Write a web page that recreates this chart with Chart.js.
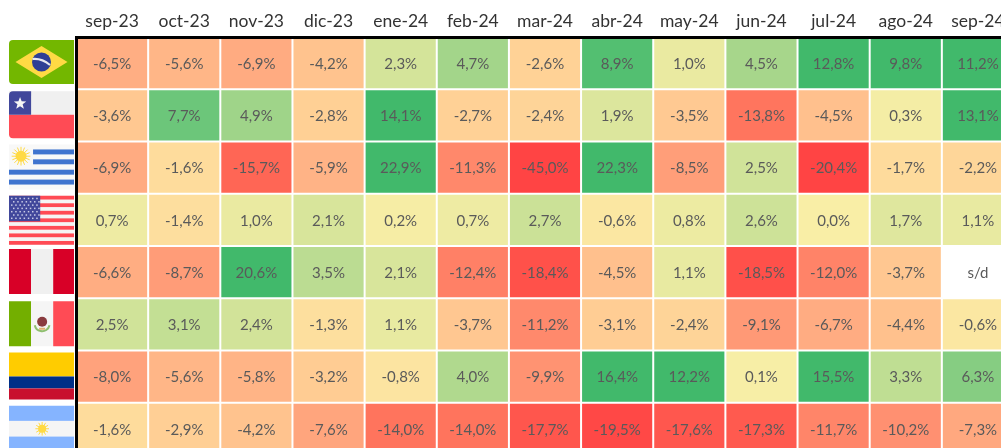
<!DOCTYPE html>
<html>
<head>
<meta charset="utf-8">
<script src="https://cdn.jsdelivr.net/npm/chart.js@4"></script>
<style>
  html, body { margin: 0; padding: 0; background: #fff; overflow: hidden; width: 1001px; height: 448px; }
  canvas { display: block; }
</style>
</head>
<body>
<canvas id="heat" width="1014" height="455"></canvas>
<script>
// Months and countries
const months = ['sep-23','oct-23','nov-23','dic-23','ene-24','feb-24','mar-24','abr-24','may-24','jun-24','jul-24','ago-24','sep-24'];
const countries = ['Brasil','Chile','Uruguay','EEUU','Perú','México','Colombia','Argentina'];

// Values per country (%)
const brasil = [-6.5,-5.6,-6.9,-4.2,2.3,4.7,-2.6,8.9,1.0,4.5,12.8,9.8,11.2];
const chile = [-3.6,7.7,4.9,-2.8,14.1,-2.7,-2.4,1.9,-3.5,-13.8,-4.5,0.3,13.1];
const uruguay = [-6.9,-1.6,-15.7,-5.9,22.9,-11.3,-45.0,22.3,-8.5,2.5,-20.4,-1.7,-2.2];
const eeuu = [0.7,-1.4,1.0,2.1,0.2,0.7,2.7,-0.6,0.8,2.6,0.0,1.7,1.1];
const peru = [-6.6,-8.7,20.6,3.5,2.1,-12.4,-18.4,-4.5,1.1,-18.5,-12.0,-3.7,null];
const mexico = [2.5,3.1,2.4,-1.3,1.1,-3.7,-11.2,-3.1,-2.4,-9.1,-6.7,-4.4,-0.6];
const colombia = [-8.0,-5.6,-5.8,-3.2,-0.8,4.0,-9.9,16.4,12.2,0.1,15.5,3.3,6.3];
const argentina = [-1.6,-2.9,-4.2,-7.6,-14.0,-14.0,-17.7,-19.5,-17.6,-17.3,-11.7,-10.2,-7.3];
const rows = [brasil, chile, uruguay, eeuu, peru, mexico, colombia, argentina];

// Colour scale: [value, r, g, b]
const stops = [
  [-20,255,68,68],[-15,255,108,88],[-10,255,146,114],[-6,255,178,133],[-3,255,206,148],
  [-1,253,226,160],[0,249,238,166],[2,218,230,156],[4,176,217,142],[7.7,108,198,122],[9.8,65,185,107]
];

// Flag box per country, offset from the row top and height
const flagOffsets = [3,2,3,2,3,3,2,3];
const flagHeights = [44,47,45,49,45,45,47,46];

function cellColor(v) {
  if (v === null) return '#ffffff';
  if (v <= stops[0][0]) return `rgb(${stops[0].slice(1)})`;
  for (let i = 1; i < stops.length; i++) {
    if (v <= stops[i][0]) {
      const a = stops[i-1], b = stops[i];
      const t = (v - a[0]) / (b[0] - a[0]);
      const c = [1,2,3].map(k => Math.round(a[k] + (b[k] - a[k]) * t));
      return `rgb(${c})`;
    }
  }
  return `rgb(${stops[stops.length-1].slice(1)})`;
}

function cellText(v) {
  if (v === null) return 's/d';
  return v.toFixed(1).replace('.', ',') + '%';
}

// Value labels inside the cells
const cellLabels = {
  id: 'cellLabels',
  afterDatasetsDraw(chart) {
    const ctx = chart.ctx;
    ctx.save();
    ctx.font = '15px Lato';
    ctx.fillStyle = '#5a5a5a';
    ctx.textAlign = 'center';
    ctx.textBaseline = 'middle';
    rows.forEach((row, r) => {
      const bars = chart.getDatasetMeta(r).data;
      row.forEach((v, c) => {
        const b = bars[c];
        ctx.fillText(cellText(v), b.x, (b.y + b.base) / 2 + 1);
      });
    });
    ctx.restore();
  }
};

// Flags, one small drawing per country
function stripes(ctx, x, y, w, h, cols) {
  cols.forEach((col, i) => {
    ctx.fillStyle = col[0];
    ctx.fillRect(x + w * col[1], y + h * col[2], w * col[3], h * col[4]);
  });
}

function sun(ctx, cx, cy, r, rays) {
  ctx.strokeStyle = '#ffda44';
  ctx.lineWidth = 1;
  for (let i = 0; i < rays; i++) {
    const a = i / rays * Math.PI * 2;
    ctx.beginPath();
    ctx.moveTo(cx, cy);
    ctx.lineTo(cx + Math.cos(a) * r * 1.7, cy + Math.sin(a) * r * 1.7);
    ctx.stroke();
  }
  ctx.fillStyle = '#ffda44';
  ctx.beginPath();
  ctx.arc(cx, cy, r, 0, Math.PI * 2);
  ctx.fill();
}

function star(ctx, cx, cy, r) {
  ctx.fillStyle = '#f5f5f5';
  ctx.beginPath();
  for (let i = 0; i < 10; i++) {
    const a = -Math.PI / 2 + i * Math.PI / 5;
    const q = i % 2 ? r * 0.42 : r;
    ctx.lineTo(cx + Math.cos(a) * q, cy + Math.sin(a) * q);
  }
  ctx.closePath();
  ctx.fill();
}

const flagDraw = {
  Brasil(ctx, x, y, w, h) {
    ctx.fillStyle = '#73b700';
    ctx.beginPath();
    ctx.roundRect(x, y, w, h, [4, 0, 0, 4]);
    ctx.fill();
    const cx = x + w * 0.5, cy = y + h * 0.5;
    ctx.fillStyle = '#ffda44';
    ctx.beginPath();
    ctx.moveTo(cx - 26, cy);
    ctx.lineTo(cx, cy - 16);
    ctx.lineTo(cx + 26, cy);
    ctx.lineTo(cx, cy + 16);
    ctx.closePath();
    ctx.fill();
    ctx.fillStyle = '#2f3f95';
    ctx.beginPath();
    ctx.arc(cx, cy, 9.5, 0, Math.PI * 2);
    ctx.fill();
    ctx.strokeStyle = '#e8e8f0';
    ctx.lineWidth = 2;
    ctx.beginPath();
    ctx.moveTo(cx - 9, cy - 3);
    ctx.quadraticCurveTo(cx, cy - 4, cx + 8.5, cy + 3);
    ctx.stroke();
  },
  Chile(ctx, x, y, w, h) {
    ctx.fillStyle = '#f0f0f0';
    ctx.fillRect(x, y, w, h * 0.5);
    ctx.fillStyle = '#ff4b55';
    ctx.beginPath();
    ctx.roundRect(x, y + h * 0.5, w, h * 0.5, [0, 0, 0, 4]);
    ctx.fill();
    ctx.fillStyle = '#41479b';
    ctx.beginPath();
    ctx.roundRect(x, y, w * 0.34, h * 0.5, [4, 0, 0, 0]);
    ctx.fill();
    star(ctx, x + w * 0.17, y + h * 0.26, 6.5);
  },
  Uruguay(ctx, x, y, w, h) {
    ctx.fillStyle = '#f8f8f8';
    ctx.fillRect(x, y, w, h);
    stripes(ctx, x, y, w, h, [
      ['#3f74cf', 0.37, 0.11, 0.63, 0.11],
      ['#3f74cf', 0.37, 0.33, 0.63, 0.11],
      ['#3f74cf', 0, 0.56, 1, 0.11],
      ['#3f74cf', 0, 0.78, 1, 0.11]
    ]);
    sun(ctx, x + w * 0.185, y + h * 0.26, 5.5, 16);
  },
  EEUU(ctx, x, y, w, h) {
    ctx.fillStyle = '#f5f5f5';
    ctx.fillRect(x, y, w, h);
    ctx.fillStyle = '#ff4b55';
    for (let i = 0; i < 13; i += 2) {
      ctx.fillRect(x, y + h * i / 13, w, h / 13);
    }
    ctx.fillStyle = '#41479b';
    ctx.fillRect(x, y, w * 0.48, h * 0.52);
    ctx.fillStyle = '#c9cbe6';
    for (let r = 0; r < 7; r++) {
      for (let c = 0; c < 7; c++) {
        ctx.fillRect(x + 2 + c * 4.2 + (r % 2) * 2, y + 2 + r * 3.3, 1.5, 1.5);
      }
    }
  },
  'Perú'(ctx, x, y, w, h) {
    stripes(ctx, x, y, w, h, [
      ['#d80027', 0, 0, 0.34, 1],
      ['#f0f0f0', 0.34, 0, 0.34, 1],
      ['#d80027', 0.68, 0, 0.32, 1]
    ]);
  },
  'México'(ctx, x, y, w, h) {
    stripes(ctx, x, y, w, h, [
      ['#73af00', 0, 0, 0.34, 1],
      ['#f5f5f5', 0.34, 0, 0.34, 1],
      ['#ff4b55', 0.68, 0, 0.32, 1]
    ]);
    const cx = x + w * 0.51, cy = y + h * 0.5;
    ctx.strokeStyle = '#8fbf70';
    ctx.lineWidth = 2;
    ctx.beginPath();
    ctx.arc(cx, cy, 7.5, 0.2, Math.PI - 0.2);
    ctx.stroke();
    ctx.fillStyle = '#8a3b3f';
    ctx.beginPath();
    ctx.arc(cx, cy - 2, 5, 0, Math.PI * 2);
    ctx.fill();
    ctx.fillStyle = '#e0b070';
    ctx.fillRect(cx - 3, cy + 4, 6, 2);
  },
  Colombia(ctx, x, y, w, h) {
    stripes(ctx, x, y, w, h, [
      ['#ffcc00', 0, 0, 1, 0.51],
      ['#002f87', 0, 0.51, 1, 0.255],
      ['#c8102e', 0, 0.765, 1, 0.235]
    ]);
  },
  Argentina(ctx, x, y, w, h) {
    stripes(ctx, x, y, w, h, [
      ['#85b4ff', 0, 0, 1, 0.33],
      ['#f5f5f5', 0, 0.33, 1, 0.34],
      ['#85b4ff', 0, 0.67, 1, 0.33]
    ]);
    sun(ctx, x + w * 0.51, y + h * 0.5, 4, 12);
  }
};

const flags = {
  id: 'flags',
  afterDraw(chart) {
    const ctx = chart.ctx;
    const y = chart.scales.y;
    countries.forEach((name, i) => {
      ctx.save();
      flagDraw[name](ctx, 9, y.getPixelForValue(i) + flagOffsets[i], 65, flagHeights[i]);
      ctx.restore();
    });
  }
};

const ctx = document.getElementById('heat').getContext('2d');
const heat = new Chart(ctx, {
  type: 'bar',
  data: {
    labels: months,
    datasets: countries.map((name, r) => ({
      label: name,
      data: months.map(() => 1),
      backgroundColor: c => cellColor(rows[r][c.dataIndex]),
      borderColor: '#ffffff',
      borderWidth: 1,
      borderSkipped: false,
      inflateAmount: 0,
      barPercentage: 1,
      categoryPercentage: 1
    }))
  },
  options: {
    responsive: false, // canvas runs past the window on purpose
    animation: false,
    layout: { padding: { left: 75, top: 0, right: 0, bottom: 0 } },
    plugins: { legend: { display: false }, tooltip: { enabled: false } },
    scales: {
      x: {
        position: 'top',
        stacked: true,
        grid: { display: false, drawTicks: false },
        border: { color: '#000000', width: 3, z: 2 },
        ticks: { color: '#333333', font: { family: 'Lato', size: 17.5 }, padding: 5, maxRotation: 0, autoSkip: false },
        afterFit(s) { s.height = 37; }
      },
      y: {
        reverse: true,
        stacked: true,
        min: 0,
        max: countries.length,
        grid: { display: false, drawTicks: false },
        border: { color: '#000000', width: 3, z: 2 },
        ticks: { display: false },
        afterFit(s) { s.width = 1; }
      }
    }
  },
  plugins: [cellLabels, flags]
});
</script>
</body>
</html>
